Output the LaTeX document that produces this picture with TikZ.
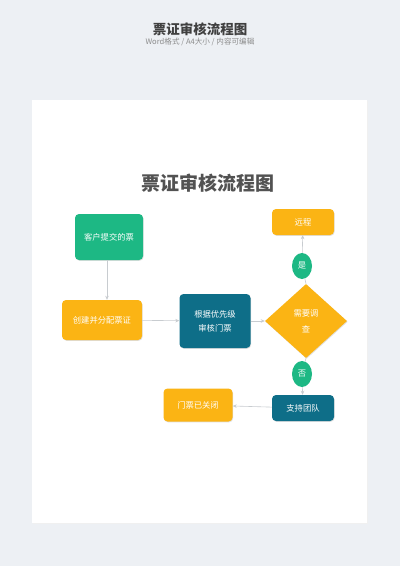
\documentclass[tikz,border=0pt]{standalone}
\usepackage{fontspec}
\setmainfont{Noto Sans CJK SC}
\usetikzlibrary{shapes.geometric,arrows.meta,shadows}
\definecolor{bgc}{HTML}{EDF0F4}
\definecolor{gr}{HTML}{1DB884}
\definecolor{org}{HTML}{FBB414}
\definecolor{tl}{HTML}{0E6E88}
\definecolor{ln}{HTML}{C8CCD0}
\begin{document}
\begin{tikzpicture}[x=1pt,y=-1pt,
  boxst/.style={rounded corners=4pt, text=white, font=\fontsize{8.3}{10}\selectfont, align=center, inner sep=0pt, drop shadow={shadow xshift=0.6pt,shadow yshift=-0.8pt,opacity=0.25}},
  grbox/.style={boxst, fill=gr},
  orbox/.style={boxst, fill=org},
  tlbox/.style={boxst, fill=tl},
  oval/.style={ellipse, fill=gr, text=white, font=\fontsize{8.3}{9}\selectfont, minimum width=20pt, minimum height=26pt, inner sep=0pt},
  conn/.style={draw=ln, line width=0.6pt, -{Stealth[length=4pt,width=3.5pt]}},
  plain/.style={draw=ln, line width=0.6pt}
]
\fill[bgc] (0,0) rectangle (400,566);
\useasboundingbox (0,0) rectangle (400,566);
\fill[black!6] (33,101) rectangle (368,524);
\fill[white] (32,100) rectangle (367,523);
\node[font=\fontsize{13.5}{15}\selectfont\bfseries, text=black!75] (ht) at (200,29) {票证审核流程图};
\node[font=\fontsize{7.6}{9}\selectfont, text=black!45] (hs) at (200,42) {Word格式 / A4大小 / 内容可编辑};
\node[font=\fontsize{19}{22}\selectfont\bfseries, text=black!68] (t) at (208,183) {票证审核流程图};

\node[grbox, minimum width=68pt, minimum height=46pt] (a) at (109,237) {客户提交的票};
\node[orbox, minimum width=80pt, minimum height=40pt] (b) at (102,320) {创建并分配票证};
\node[tlbox, minimum width=71pt, minimum height=54pt, font=\fontsize{8.3}{14}\selectfont] (c) at (215,321) {根据优先级\\审核门票};
\node[diamond, fill=org, text=white, minimum width=82pt, minimum height=74pt, inner sep=0pt, font=\fontsize{8.3}{16}\selectfont, align=center, drop shadow={shadow xshift=0.6pt,shadow yshift=-0.8pt,opacity=0.25}] (d) at (306,321) {需要调\\查};
\node[orbox, minimum width=62pt, minimum height=26pt] (e) at (303,222) {远程};
\node[oval] (y) at (302,266) {是};
\node[oval] (n) at (302,374) {否};
\node[tlbox, minimum width=62pt, minimum height=26pt] (f) at (303,408) {支持团队};
\node[orbox, minimum width=69pt, minimum height=33pt] (g) at (198,405) {门票已关闭};

\draw[conn] (a.south -| 107,0) -- (b.north -| 107,0);
\draw[conn] (b) -- (c);
\draw[conn] (c) -- (d);
\draw[plain] (d.north) -- (y);
\draw[conn] (y) -- (e);
\draw[plain] (d.south) -- (n);
\draw[conn] (n) -- (f);
\draw[conn] (f) -- (g);
\end{tikzpicture}
\end{document}
